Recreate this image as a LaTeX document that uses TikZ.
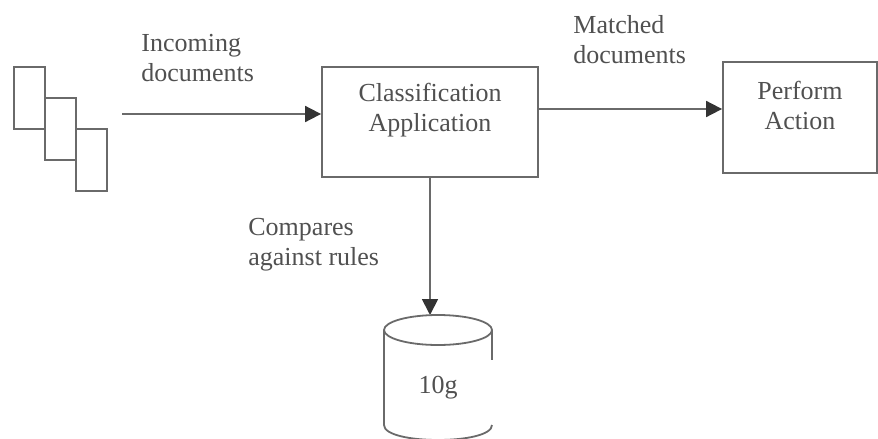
\documentclass[tikz,border=0pt]{standalone}
\usepackage{fontspec}
\setmainfont{Liberation Serif}
\usetikzlibrary{arrows.meta}
\definecolor{inkgray}{HTML}{505050}
\definecolor{linegray}{HTML}{6A6A6A}

\begin{document}
\begin{tikzpicture}[x=0.5pt, y=-0.5pt, font=\fontsize{13}{15}\selectfont, text=inkgray,
  box/.style={draw=linegray, line width=0.9pt},
  flow/.style={draw=linegray, line width=0.9pt, -{Triangle[length=8pt,width=8pt,color=black!80]}},
  lbl/.style={align=left, anchor=west, inner sep=0pt}]
\useasboundingbox (0,0) rectangle (878,439);
\foreach \i in {0,1,2}
\draw [box] (14+31*\i,67+31*\i) rectangle +(31,62);
\coordinate (docsout) at (122,114);
\node [box, minimum width=108pt, minimum height=55pt] (classify) at (430,122) {};
\node [align=center] (classifytxt) at (430,110) {Classification\\Application};
\node [box, minimum width=77pt, minimum height=55.5pt] (perform) at (800,117.5) {};
\node [align=center] (performtxt) at (800,105) {Perform\\Action};
\coordinate (storetop) at (430,315);
\node (store) at (438,388) {10g};
\node [lbl] (inlbl) at (141,58) {Incoming\\documents};
\node [lbl] (matchlbl) at (573,40) {Matched\\documents};
\node [lbl] (rulelbl) at (248,245) {Compares\\against rules};
\draw [flow] (docsout) -- (docsout -| classify.west);
\draw [flow] (classify.east |- 0,109) -- (perform.west |- 0,109);
\draw [flow] (classify.south) -- (storetop);
\draw [box] (438,330) ellipse (54 and 15);
\draw [box] (384,330) -- (384,425) .. controls (384,445) and (492,445) .. (492,425);
\draw [box] (492,330) -- (492,360);
\end{tikzpicture}
\end{document}
